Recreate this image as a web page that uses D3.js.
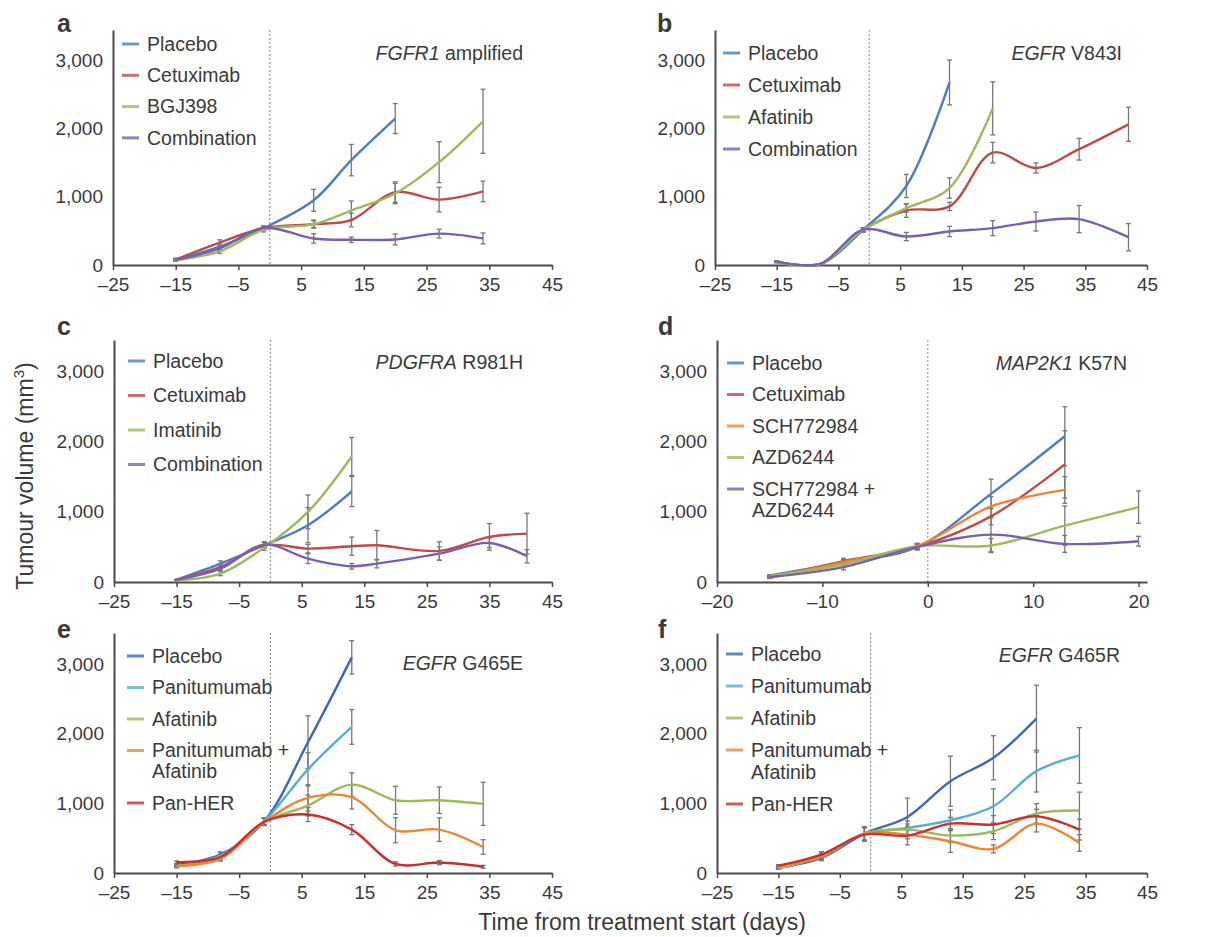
<!DOCTYPE html>
<html>
<head>
<meta charset="utf-8">
<script src="https://cdn.jsdelivr.net/npm/d3@7"></script>
<style>
  body { margin: 0; background: #fff; }
  svg text { font-family: "Liberation Sans", Arial, Helvetica, sans-serif; fill: #3a3a3a; }
</style>
</head>
<body>
<svg id="chart" width="1208" height="937"></svg>
<script>
// Tumour volume curves, six panels (a-f).

const yDomain = [0, 3450];
const yTicks = [0, 1000, 2000, 3000];
const xTicksWide = [-25, -15, -5, 5, 15, 25, 35, 45];
const xTicksD = [-20, -10, 0, 10, 20];

// panel a: FGFR1 amplified
const daysA = [-15, -8, -1, 7, 13, 20, 27, 34];
const placeboA = [80, 270, 540, 950, 1540, 2150, null, null];
const placeboErrA = [20, 50, 30, 160, 230, 220, null, null];
const cetuximabA = [80, 330, 540, 600, 660, 1070, 960, 1080];
const cetuximabErrA = [15, 40, 30, 60, 100, 150, 180, 150];
const bgj398A = [70, 200, 515, 600, 800, 1050, 1510, 2110];
const bgj398ErrA = [10, 30, 30, 50, 140, 150, 300, 470];
const comboA = [75, 245, 545, 390, 370, 375, 460, 390];
const comboErrA = [10, 30, 30, 70, 40, 80, 65, 80];

// panel b: EGFR V843I
const daysB = [-15, -8, -1, 6, 13, 20, 27, 34, 42];
const placeboB = [50, 15, 517, 1160, 2680, null, null, null, null];
const placeboErrB = [10, 5, 30, 170, 330, null, null, null, null];
const cetuximabB = [50, 10, 517, 800, 860, 1650, 1425, 1700, 2065];
const cetuximabErrB = [10, 5, 30, 100, 60, 150, 75, 160, 250];
const afatinibB = [40, 10, 517, 835, 1130, 2300, null, null, null];
const afatinibErrB = [10, 5, 30, 60, 150, 390, null, null, null];
const comboB = [50, 15, 517, 418, 492, 541, 639, 674, 408];
const comboErrB = [10, 5, 30, 60, 75, 110, 140, 200, 200];

// panel c: PDGFRA R981H
const daysC = [-15, -8, -1, 6, 13, 17, 27, 35, 41];
const placeboC = [33, 262, 524, 810, 1290, null, null, null, null];
const placeboErrC = [5, 40, 40, 250, 215, null, null, null, null];
const cetuximabC = [30, 214, 524, 476, 510, 524, 443, 643, 690];
const cetuximabErrC = [5, 40, 40, 60, 130, 210, 130, 190, 290];
const imatinibC = [25, 120, 490, 1000, 1790, null, null, null, null];
const imatinibErrC = [5, 30, 40, 240, 270, null, null, null, null];
const comboC = [30, 190, 533, 333, 224, 262, 405, 557, 367];
const comboErrC = [5, 30, 40, 70, 40, 60, 95, 70, 95];

// panel d: MAP2K1 K57N
const daysD = [-15, -8, -1, 6, 13, 20];
const placeboD = [95, 274, 500, 1256, 2078, null];
const placeboErrD = [10, 40, 40, 210, 420, null];
const cetuximabD = [61, 298, 500, 935, 1677, null];
const cetuximabErrD = [10, 40, 40, 120, 480, null];
const schD = [61, 283, 510, 1077, 1313, null];
const schErrD = [10, 40, 40, 140, 190, null];
const azdD = [85, 250, 510, 520, 803, 1067];
const azdErrD = [10, 40, 40, 100, 280, 230];
const comboD = [71, 213, 500, 675, 543, 581];
const comboErrD = [10, 40, 40, 240, 120, 70];

// panel e: EGFR G465E
const daysE = [-15, -8, -1, 6, 13, 20, 27, 34];
const placeboE = [120, 264, 744, 1880, 3100, null, null, null];
const placeboErrE = [20, 40, 50, 380, 240, null, null, null];
const panitumumabE = [96, 250, 744, 1490, 2100, null, null, null];
const panitumumabErrE = [20, 40, 50, 240, 250, null, null, null];
const afatinibE = [106, 216, 734, 970, 1270, 1046, 1046, 994];
const afatinibErrE = [20, 30, 50, 150, 170, 200, 190, 310];
const panAfaE = [96, 202, 734, 1080, 1090, 614, 624, 374];
const panAfaErrE = [20, 30, 50, 190, 170, 180, 170, 105];
const panHerE = [154, 230, 734, 840, 624, 130, 150, 90];
const panHerErrE = [20, 30, 50, 100, 72, 30, 30, 20];

// panel f: EGFR G465R
const daysF = [-15, -8, -1, 6, 13, 20, 27, 34];
const placeboF = [72, 216, 566, 806, 1320, 1656, 2218, null];
const placeboErrF = [15, 40, 96, 270, 360, 317, 480, null];
const panitumumabF = [86, 264, 566, 648, 758, 960, 1464, 1690];
const panitumumabErrF = [15, 40, 96, 100, 150, 250, 300, 400];
const afatinibF = [70, 240, 566, 624, 538, 600, 854, 898];
const afatinibErrF = [15, 40, 96, 80, 100, 120, 144, 264];
const panAfaF = [96, 230, 566, 552, 456, 346, 710, 432];
const panAfaErrF = [15, 40, 96, 60, 160, 58, 120, 120];
const panHerF = [106, 264, 552, 538, 710, 696, 816, 624];
const panHerErrF = [15, 40, 96, 134, 90, 130, 100, 150];

const C = {
  placebo: '#4a7dc4', placeboDark: '#3d66bd', cetuximab: '#be4b48', green: '#9bbb59',
  purple: '#7b5eb0', orange: '#ef8430', panit: '#5aaecb', panHer: '#cc2e2e'
};

const panels = [
  { id: 'a', gene: 'FGFR1', variant: ' amplified', frame: {l: 113, r: 552, t: 30, b: 265},
    xDomain: [-25, 45], xTicks: xTicksWide, days: daysA,
    letter: [57, 32], note: [523, 53], legend: {x: 122, y: 44, row: 31.3, line: 21},
    series: [
      {name: 'Placebo', color: C.placebo, v: placeboA, e: placeboErrA},
      {name: 'Cetuximab', color: C.cetuximab, v: cetuximabA, e: cetuximabErrA},
      {name: 'BGJ398', color: C.green, v: bgj398A, e: bgj398ErrA},
      {name: 'Combination', color: C.purple, v: comboA, e: comboErrA}
    ]},
  { id: 'b', gene: 'EGFR', variant: ' V843I', frame: {l: 715, r: 1147, t: 30, b: 265},
    xDomain: [-25, 45], xTicks: xTicksWide, days: daysB,
    letter: [657, 32], note: [1122, 53], legend: {x: 723, y: 53, row: 32, line: 21},
    series: [
      {name: 'Placebo', color: C.placebo, v: placeboB, e: placeboErrB},
      {name: 'Cetuximab', color: C.cetuximab, v: cetuximabB, e: cetuximabErrB},
      {name: 'Afatinib', color: C.green, v: afatinibB, e: afatinibErrB},
      {name: 'Combination', color: C.purple, v: comboB, e: comboErrB}
    ]},
  { id: 'c', gene: 'PDGFRA', variant: ' R981H', frame: {l: 114, r: 552, t: 340, b: 582},
    xDomain: [-25, 45], xTicks: xTicksWide, days: daysC,
    letter: [57, 335], note: [523, 362], legend: {x: 128, y: 361, row: 34.5, line: 21},
    series: [
      {name: 'Placebo', color: C.placebo, v: placeboC, e: placeboErrC},
      {name: 'Cetuximab', color: C.cetuximab, v: cetuximabC, e: cetuximabErrC},
      {name: 'Imatinib', color: C.green, v: imatinibC, e: imatinibErrC},
      {name: 'Combination', color: C.purple, v: comboC, e: comboErrC}
    ]},
  { id: 'd', gene: 'MAP2K1', variant: ' K57N', frame: {l: 717, r: 1147, t: 340, b: 582},
    xDomain: [-20, 20.8], xTicks: xTicksD, days: daysD,
    letter: [658, 335], note: [1127, 363], legend: {x: 727, y: 363, row: 31.5, line: 21},
    series: [
      {name: 'Placebo', color: C.placebo, v: placeboD, e: placeboErrD},
      {name: 'Cetuximab', color: C.cetuximab, v: cetuximabD, e: cetuximabErrD},
      {name: 'SCH772984', color: C.orange, v: schD, e: schErrD},
      {name: 'AZD6244', color: C.green, v: azdD, e: azdErrD},
      {name: 'SCH772984 +\nAZD6244', color: C.purple, v: comboD, e: comboErrD}
    ]},
  { id: 'e', gene: 'EGFR', variant: ' G465E', frame: {l: 114, r: 552, t: 633, b: 873},
    xDomain: [-25, 45], xTicks: xTicksWide, days: daysE,
    letter: [57, 638], note: [523, 663], legend: {x: 127, y: 656, row: 31.5, line: 21},
    series: [
      {name: 'Placebo', color: C.placeboDark, v: placeboE, e: placeboErrE},
      {name: 'Panitumumab', color: C.panit, v: panitumumabE, e: panitumumabErrE},
      {name: 'Afatinib', color: C.green, v: afatinibE, e: afatinibErrE},
      {name: 'Panitumumab +\nAfatinib', color: C.orange, v: panAfaE, e: panAfaErrE},
      {name: 'Pan-HER', color: C.panHer, v: panHerE, e: panHerErrE}
    ]},
  { id: 'f', gene: 'EGFR', variant: ' G465R', frame: {l: 717, r: 1147, t: 633, b: 873},
    xDomain: [-25, 45], xTicks: xTicksWide, days: daysF,
    letter: [658, 638], note: [1120, 655], legend: {x: 726, y: 654, row: 32, line: 22},
    series: [
      {name: 'Placebo', color: C.placeboDark, v: placeboF, e: placeboErrF},
      {name: 'Panitumumab', color: C.panit, v: panitumumabF, e: panitumumabErrF},
      {name: 'Afatinib', color: C.green, v: afatinibF, e: afatinibErrF},
      {name: 'Panitumumab +\nAfatinib', color: C.orange, v: panAfaF, e: panAfaErrF},
      {name: 'Pan-HER', color: C.panHer, v: panHerF, e: panHerErrF}
    ]}
];

const svg = d3.select('#chart');
const fmtX = d => String(d).replace('-', '\u2013');

panels.forEach(drawPanel);

function drawPanel(p) {
  const f = p.frame;
  const x = d3.scaleLinear().domain(p.xDomain).range([f.l, f.r]);
  const y = d3.scaleLinear().domain(yDomain).range([f.b, f.t]);
  const g = svg.append('g').attr('class', 'panel-' + p.id);

  // treatment start
  g.append('line')
    .attr('x1', x(0)).attr('x2', x(0))
    .attr('y1', f.t).attr('y2', f.b)
    .attr('stroke', '#9a9a9a').attr('stroke-width', 1.2)
    .attr('stroke-dasharray', '2,2');

  // axes
  const gx = g.append('g')
    .attr('transform', `translate(0,${f.b})`)
    .call(d3.axisBottom(x).tickValues(p.xTicks).tickSize(5).tickSizeOuter(0)
      .tickPadding(8).tickFormat(fmtX));
  const gy = g.append('g')
    .attr('transform', `translate(${f.l},0)`)
    .call(d3.axisLeft(y).tickValues(yTicks).tickSize(0).tickSizeOuter(0)
      .tickPadding(10).tickFormat(d3.format(',')));
  [gx, gy].forEach(a => {
    a.select('.domain').attr('stroke', '#4a4a4a').attr('stroke-width', 2);
    a.selectAll('.tick line').attr('stroke', '#4a4a4a').attr('stroke-width', 1.5);
    a.selectAll('.tick text').attr('font-size', 19).attr('fill', '#3a3a3a')
      .attr('font-family', '"Liberation Sans", Arial, sans-serif');
  });

  const rows = p.series.map(s => p.days.map((t, i) => ({t, v: s.v[i], e: s.e[i]}))
    .filter(d => d.v != null));

  // error bars
  const eb = g.append('g').attr('stroke', '#777').attr('stroke-width', 1.3);
  rows.forEach(pts => {
    pts.filter(d => d.e).forEach(d => {
      const cx = x(d.t), y0 = y(Math.max(0, d.v - d.e)), y1 = y(d.v + d.e);
      eb.append('line').attr('x1', cx).attr('x2', cx).attr('y1', y0).attr('y2', y1);
      eb.append('line').attr('x1', cx - 2.5).attr('x2', cx + 2.5).attr('y1', y0).attr('y2', y0);
      eb.append('line').attr('x1', cx - 2.5).attr('x2', cx + 2.5).attr('y1', y1).attr('y2', y1);
    });
  });

  // curves
  const line = d3.line().x(d => x(d.t)).y(d => y(d.v)).curve(d3.curveCatmullRom.alpha(0.5));
  rows.forEach((pts, i) => {
    g.append('path').datum(pts)
      .attr('d', line)
      .attr('fill', 'none')
      .attr('stroke', p.series[i].color)
      .attr('stroke-width', 2.4)
      .attr('stroke-linejoin', 'round');
  });

  // legend
  const lg = p.legend;
  let ly = lg.y;
  p.series.forEach(s => {
    const parts = s.name.split('\n');
    g.append('line')
      .attr('x1', lg.x).attr('x2', lg.x + 17)
      .attr('y1', ly).attr('y2', ly)
      .attr('stroke', s.color).attr('stroke-width', 3).attr('stroke-opacity', 0.8);
    const t = g.append('text')
      .attr('x', lg.x + 25).attr('y', ly)
      .attr('font-size', 19.5);
    parts.forEach((s2, j) => {
      t.append('tspan').attr('x', lg.x + 25).attr('dy', j ? lg.line : '0.35em').text(s2);
    });
    ly += lg.row + (parts.length - 1) * lg.line;
  });

  // annotation
  const note = g.append('text')
    .attr('x', p.note[0]).attr('y', p.note[1]).attr('dy', '0.35em')
    .attr('text-anchor', 'end').attr('font-size', 19.5);
  note.append('tspan').attr('font-style', 'italic').text(p.gene);
  note.append('tspan').text(p.variant);

  // panel letter
  g.append('text')
    .attr('x', p.letter[0]).attr('y', p.letter[1])
    .attr('font-size', 25).attr('font-weight', 'bold').attr('fill', '#111')
    .text(p.id);
}

// shared axis titles
const yt = svg.append('text')
  .attr('transform', 'translate(33,476) rotate(-90)')
  .attr('text-anchor', 'middle').attr('font-size', 23);
yt.append('tspan').text('Tumour volume (mm');
yt.append('tspan').attr('font-size', 15).attr('dy', -9).text('3');
yt.append('tspan').attr('dy', 9).text(')');

svg.append('text')
  .attr('x', 642).attr('y', 930)
  .attr('text-anchor', 'middle').attr('font-size', 23)
  .text('Time from treatment start (days)');
</script>
</body>
</html>
